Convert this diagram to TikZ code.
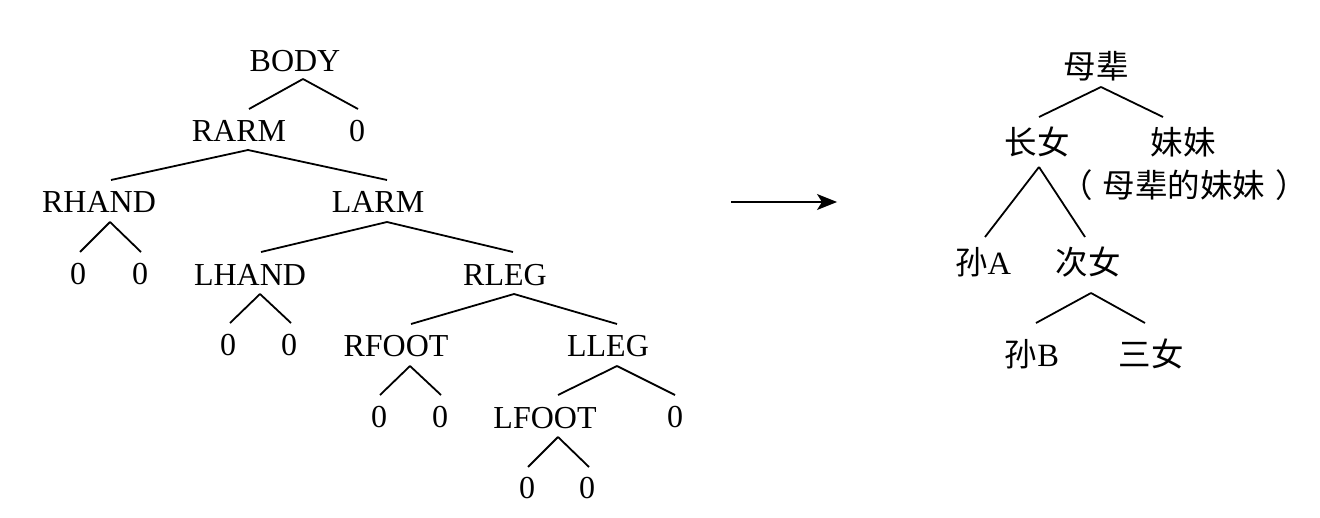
\documentclass[tikz,border=0pt]{standalone}
\usepackage{fontspec}
\setmainfont{Liberation Serif}
\newfontfamily\cjk{Noto Sans CJK SC}
\usetikzlibrary{arrows.meta}
\newcommand\edgeline[6]{\draw ([shift={(#2,#3)}]#1.base) -- ([shift={(#5,#6)}]#4.base);}
\newcommand\cjkedge[6]{\draw ([shift={(#2,#3)}]#1.center) -- ([shift={(#5,#6)}]#4.center);}
\begin{document}
\begin{tikzpicture}[x=1bp,y=-1bp,
  lbl/.style={inner sep=0pt,anchor=base,font=\fontsize{32bp}{38bp}\selectfont},
  clbl/.style={inner sep=0pt,anchor=center,font=\fontsize{32.5bp}{38bp}\selectfont\cjk},
  every path/.style={line width=1.8bp}]
\useasboundingbox (0,0) rectangle (1320,518);
% left tree
\node[lbl] (body) at (295,72) {BODY};
\node[lbl] (rarm) at (239,142) {RARM};
\node[lbl] (za) at (357,142) {0};
\node[lbl] (rhand) at (99,213) {RHAND};
\node[lbl] (larm) at (378,213) {LARM};
\node[lbl] (zb) at (78,284) {0};
\node[lbl] (zc) at (140,284) {0};
\node[lbl] (lhand) at (250,285) {LHAND};
\node[lbl] (rleg) at (505,285) {RLEG};
\node[lbl] (zd) at (228,355) {0};
\node[lbl] (ze) at (289,355) {0};
\node[lbl] (rfoot) at (396,356) {RFOOT};
\node[lbl] (lleg) at (608,356) {LLEG};
\node[lbl] (zf) at (379,427) {0};
\node[lbl] (zg) at (440,427) {0};
\node[lbl] (lfoot) at (545,428) {LFOOT};
\node[lbl] (zh) at (675,427) {0};
\node[lbl] (zi) at (527,498) {0};
\node[lbl] (zj) at (587,498) {0};
\edgeline{body}{8}{7}{rarm}{10}{-33}
\edgeline{body}{8}{7}{za}{1}{-33}
\edgeline{rarm}{9}{8}{rhand}{12}{-33}
\edgeline{rarm}{9}{8}{larm}{9}{-33}
\edgeline{rhand}{11}{9}{zb}{2}{-32}
\edgeline{rhand}{11}{9}{zc}{1}{-32}
\edgeline{larm}{9}{9}{lhand}{11}{-33}
\edgeline{larm}{9}{9}{rleg}{8}{-33}
\edgeline{lhand}{10}{9}{zd}{2}{-32}
\edgeline{lhand}{10}{9}{ze}{2}{-32}
\edgeline{rleg}{9}{9}{rfoot}{15}{-32}
\edgeline{rleg}{9}{9}{lleg}{9}{-32}
\edgeline{rfoot}{14}{10}{zf}{1}{-32}
\edgeline{rfoot}{14}{10}{zg}{1}{-32}
\edgeline{lleg}{9}{10}{lfoot}{13}{-33}
\edgeline{lleg}{9}{10}{zh}{0}{-32}
\edgeline{lfoot}{13}{9}{zi}{1}{-31}
\edgeline{lfoot}{13}{9}{zj}{2}{-31}
% arrow
\coordinate (a1) at (731,202);
\coordinate (a2) at (837,202);
\draw[line width=1.5bp,-{Stealth[length=20bp,width=16bp,inset=5bp]}] (a1) -- (a2);
% right tree
\node[clbl] (mb) at (1096,66) {母辈};
\node[clbl] (cn) at (1037,142) {长女};
\node[clbl] (mm) at (1183,142) {妹妹};
\node[clbl] (mmsub) at (1184,185) {（\kern10bp 母辈的妹妹\kern10bp ）};
\node[clbl] (sa) at (983,262) {孙{\rmfamily A}};
\node[clbl] (cin) at (1088,262) {次女};
\node[clbl] (sb) at (1032,354) {孙{\rmfamily B}};
\node[clbl] (sn) at (1151,354) {三女};
\cjkedge{mb}{5}{21}{cn}{2}{-25}
\cjkedge{mb}{5}{21}{mm}{-20}{-25}
\cjkedge{cn}{2}{25}{sa}{2}{-25}
\cjkedge{cn}{2}{25}{cin}{-3}{-25}
\cjkedge{cin}{3}{31}{sb}{4}{-31}
\cjkedge{cin}{3}{31}{sn}{-6}{-31}
\end{tikzpicture}
\end{document}
